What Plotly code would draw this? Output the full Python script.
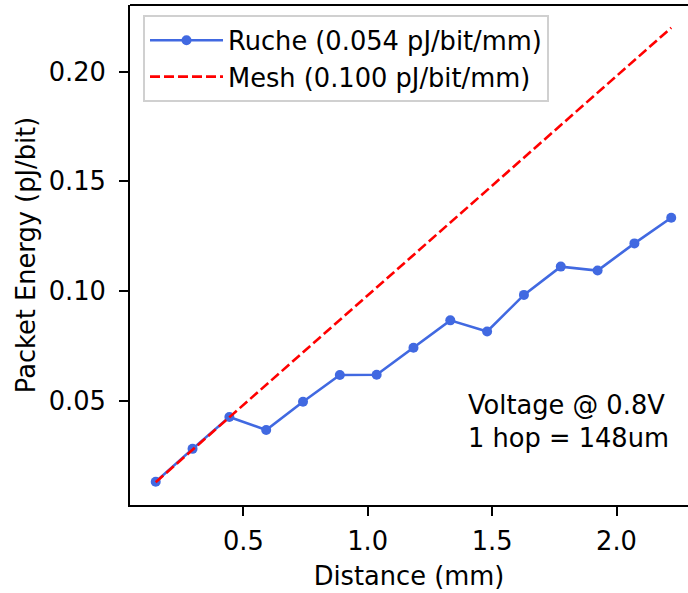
import plotly.graph_objects as go

# Distance travelled by a packet (mm), one point per hop of 148 um
distance_mm = [0.148, 0.296, 0.444, 0.592, 0.740, 0.888, 1.036, 1.184,
               1.332, 1.480, 1.628, 1.776, 1.924, 2.072, 2.220]

# Measured packet energy on the Ruche network (pJ/bit)
ruche_energy = [0.0130, 0.0280, 0.0425, 0.0366, 0.0495, 0.0617, 0.0618, 0.0741,
                0.0866, 0.0815, 0.0982, 0.1111, 0.1093, 0.1217, 0.1334]

# Mesh reference line (pJ/bit)
mesh_energy = [0.0128, 0.0276, 0.0424, 0.0572, 0.0720, 0.0868, 0.1016, 0.1164,
               0.1312, 0.1460, 0.1608, 0.1756, 0.1904, 0.2052, 0.2200]

x_ticks = [0.5, 1.0, 1.5, 2.0]
y_ticks = [0.05, 0.10, 0.15, 0.20]

FONT = "DejaVu Sans"
FS = 25.7

fig = go.Figure()
fig.add_trace(go.Scatter(
    x=distance_mm, y=ruche_energy, mode="lines+markers",
    name="Ruche (0.054 pJ/bit/mm)", legendgroup="a",
    line=dict(color="#4169E1", width=2.6),
    marker=dict(color="#4169E1", size=10, symbol="circle"),
))
fig.add_trace(go.Scatter(
    x=distance_mm, y=mesh_energy,
    mode="lines", name="Mesh (0.100 pJ/bit/mm)", legendgroup="b",
    line=dict(color="#FF0000", width=2.6, dash="10px,4px"),
))

fig.add_annotation(
    xref="paper", yref="paper", x=(466 - 130) / 558, y=(505 - 421) / 500,
    xanchor="left", yanchor="middle", align="left", showarrow=False,
    text="Voltage @ 0.8V<br>1 hop = 148um",
    font=dict(family=FONT, size=FS, color="black"),
)

axis_common = dict(
    showgrid=False, zeroline=False, showline=True, linecolor="black",
    linewidth=2, ticks="outside", ticklen=9, tickwidth=2, tickcolor="black",
    tickfont=dict(family=FONT, size=FS, color="black"),
)

fig.update_layout(
    width=688, height=593,
    margin=dict(l=130, r=0, t=5, b=88),
    paper_bgcolor="white", plot_bgcolor="white",
    font=dict(family=FONT, size=FS, color="black"),
    xaxis=dict(range=[0.0446, 2.2874], tickvals=x_ticks,
               ticktext=[f"{v:.1f}" for v in x_ticks], mirror=False,
               ticklabelstandoff=3,
               title=dict(text="Distance (mm)", font=dict(family=FONT, size=FS),
                          standoff=12),
               **axis_common),
    yaxis=dict(range=[0.0024, 0.2304], tickvals=y_ticks,
               ticktext=[f"{v:.2f}" for v in y_ticks],
               ticklabelstandoff=8,
               title=dict(text="Packet Energy (pJ/bit)", font=dict(family=FONT, size=FS),
                          standoff=6),
               **axis_common),
    showlegend=True,
    legend=dict(
        x=(143 - 130) / 558, y=(505 - 15) / 500, xanchor="left", yanchor="top",
        bgcolor="rgba(255,255,255,0.8)", bordercolor="#d0d0d0", borderwidth=2,
        font=dict(family=FONT, size=FS, color="black"),
        itemwidth=73, tracegroupgap=0,
    ),
)

# top spine of the axes box
fig.add_shape(type="line", xref="paper", yref="paper", x0=0, x1=1, y0=1, y1=1,
              line=dict(color="black", width=2))

fig.write_html("out.html")
